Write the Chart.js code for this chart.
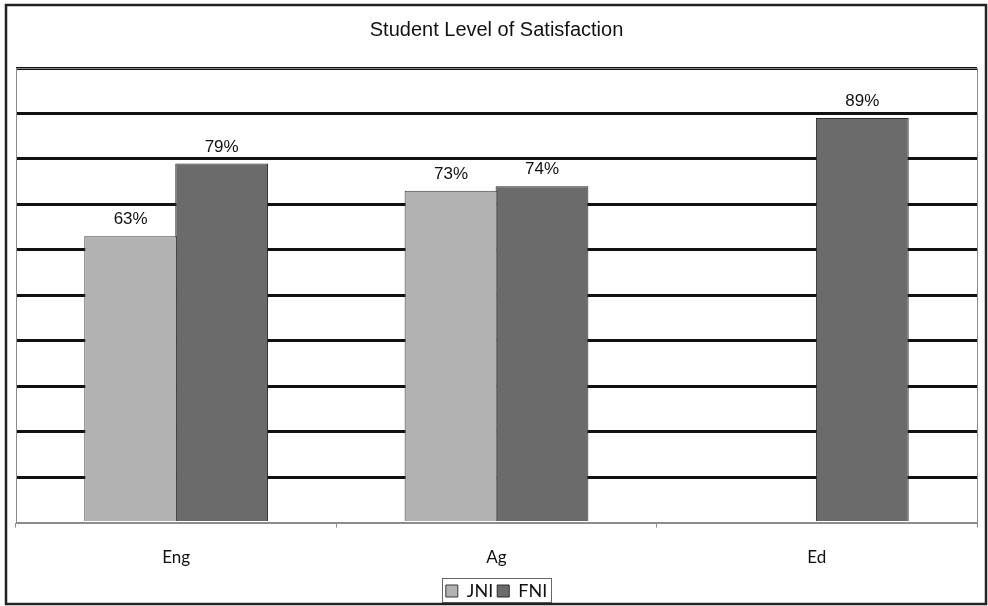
<!DOCTYPE html>
<html>
<head>
<meta charset="utf-8">
<script src="https://cdn.jsdelivr.net/npm/chart.js@4/dist/chart.umd.min.js"></script>
<style>
  html, body { margin: 0; padding: 0; background: #fff; }
  #wrap { width: 988px; height: 606px; position: relative; }
</style>
</head>
<body>
<div id="wrap"><canvas id="c" width="988" height="606"></canvas></div>
<script>
const categories = ['Eng', 'Ag', 'Ed'];
const jniValues = [63, 73, null];
const fniValues = [79, 74, 89];
const seriesNames = ['JNI', 'FNI'];
const chartTitle = 'Student Level of Satisfaction';

const LIGHT = '#b2b2b2';
const DARK = '#6b6b6b';
const LEGEND_SHIFT = 4;

// Outer frame, plot-area border, legend box and value labels
const decorations = {
  id: 'decorations',
  afterLayout(chart) {
    // nudge the legend row a little lower inside the frame
    const lg = chart.legend;
    lg.top += LEGEND_SHIFT;
    lg.bottom += LEGEND_SHIFT;
  },
  afterDatasetsDraw(chart) {
    const ctx = chart.ctx;
    const a = chart.chartArea;
    ctx.save();
    // thin plot-area border
    ctx.strokeStyle = '#8c8c8c';
    ctx.lineWidth = 1;
    ctx.strokeRect(Math.round(a.left) + 0.5, Math.round(a.top) + 0.5,
                   Math.round(a.right - a.left), Math.round(a.bottom - a.top));
    // value labels above each bar
    ctx.fillStyle = '#111';
    ctx.font = '17px "Liberation Sans Narrow", "Arial Narrow", "Liberation Sans", sans-serif';
    ctx.textAlign = 'center';
    ctx.textBaseline = 'bottom';
    chart.data.datasets.forEach((ds, i) => {
      const meta = chart.getDatasetMeta(i);
      meta.data.forEach((bar, j) => {
        const v = ds.data[j];
        if (v === null || v === undefined) return;
        ctx.fillText(v + '%', bar.x, bar.y - 8);
      });
    });
    ctx.restore();
  },
  afterDraw(chart) {
    const ctx = chart.ctx;
    ctx.save();
    // box around legend entries
    const lg = chart.legend;
    const boxes = lg.legendHitBoxes;
    if (boxes && boxes.length) {
      let l = Infinity, r = -Infinity;
      boxes.forEach(h => {
        l = Math.min(l, h.left); r = Math.max(r, h.left + h.width);
      });
      const t = lg.top + lg.options.labels.padding;
      ctx.strokeStyle = '#666';
      ctx.lineWidth = 1;
      ctx.strokeRect(Math.round(l - 4) + 0.5, Math.round(t - 4) + 0.5,
                     Math.round(r - l + 8), 24);
    }
    // outer chart frame
    ctx.strokeStyle = '#222';
    ctx.lineWidth = 2.5;
    ctx.strokeRect(6, 5, 980, 599);
    ctx.restore();
  }
};

new Chart(document.getElementById('c'), {
  type: 'bar',
  data: {
    labels: categories,
    datasets: [
      { label: seriesNames[0], data: jniValues, backgroundColor: LIGHT,
        borderColor: '#3a3a3a', borderWidth: 1 },
      { label: seriesNames[1], data: fniValues, backgroundColor: DARK,
        borderColor: '#2a2a2a', borderWidth: 1 }
    ]
  },
  options: {
    responsive: false,
    animation: false,
    layout: { padding: { left: 16, right: 11, top: 0, bottom: 0 } },
    datasets: {
      bar: { categoryPercentage: 0.568, barPercentage: 1.02 }
    },
    scales: {
      x: {
        offset: true,
        grid: {
          display: true, drawOnChartArea: false, drawTicks: true,
          tickLength: 5, color: '#8c8c8c', lineWidth: 1, offset: true
        },
        border: { display: true, color: '#8c8c8c', width: 1 },
        ticks: {
          color: '#111', padding: 20,
          font: { family: 'Lato, "Open Sans", sans-serif', size: 17 }
        },
        afterFit(scale) { scale.height -= 14; }
      },
      y: {
        min: 0, max: 100,
        ticks: { display: false, stepSize: 10 },
        grid: {
          drawTicks: false,
          lineWidth: 3,
          color: c => (c.tick && c.tick.value === 0) ? 'rgba(0,0,0,0)' : '#111'
        },
        border: { display: false }
      }
    },
    plugins: {
      title: {
        display: true,
        text: chartTitle,
        color: '#111',
        font: { family: '"Liberation Sans", Arial, sans-serif', size: 20, weight: 'normal' },
        padding: { top: 18, bottom: 26 }
      },
      legend: {
        position: 'bottom',
        labels: {
          color: '#111',
          boxWidth: 12, boxHeight: 12,
          padding: 4,
          font: { family: 'Lato, "Open Sans", sans-serif', size: 18 }
        }
      },
      tooltip: { enabled: false }
    }
  },
  plugins: [decorations]
});
</script>
</body>
</html>
